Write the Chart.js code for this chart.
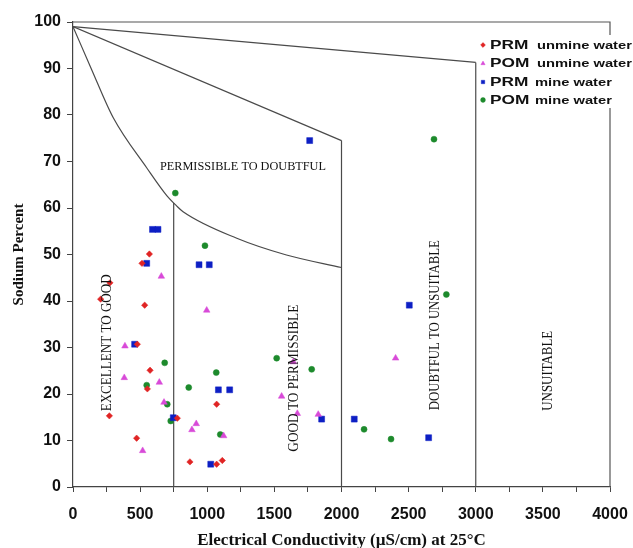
<!DOCTYPE html>
<html><head><meta charset="utf-8">
<script src="https://cdn.jsdelivr.net/npm/chart.js@4/dist/chart.umd.min.js"></script>
<style>html,body{margin:0;padding:0;background:#fff}</style>
</head><body>
<canvas id="c" width="633" height="548"></canvas>
<script>
// ---- data (EC in µS/cm, Sodium %) ----
const prmUnmine = [[569,50.1],[514,48.1],[275,43.9],[206,40.4],[534,39.1],[479,30.7],[574,25.1],[554,21.1],[271,15.3],[474,10.5],[1070,17.8],[777,14.8],[871,5.4],[1070,4.9],[1112,5.7]];
const pomUnmine = [[658,45.3],[996,38.0],[387,30.3],[382,23.5],[643,22.5],[678,18.2],[918,13.6],[886,12.3],[1122,11.0],[519,7.8],[1554,19.5],[1671,15.8],[1827,15.6],[2403,27.7],[1641,26.9]];
const prmMine = [[549,48.1],[939,47.8],[1015,47.8],[459,30.7],[1083,20.9],[1167,20.9],[747,14.9],[1026,4.9],[592,55.4],[633,55.4],[1763,74.5],[1852,14.6],[2095,14.6],[2505,39.1],[2649,10.6]];
const pomMine = [[762,63.2],[983,51.9],[2689,74.8],[2781,41.4],[683,26.7],[1067,24.6],[549,21.9],[862,21.4],[702,17.8],[728,14.2],[1097,11.3],[1517,27.7],[1778,25.3],[2168,12.4],[2369,10.3]];

// Wilcox diagram boundaries
const lineUnsuitable = [[0,99],[3000,91.3]];
const lineDoubtful = [[0,99],[2000,74.5]];
const curvePermissible = [[0,99],[140,89.7],[300,79.4],[550,68.6],[700,62.6],[770,60.5],[820,59.2],[1220,53.5],[1590,49.9],[2000,47.2]];
const vline750 = [[750,0],[750,61.1]];
const vline2000 = [[2000,0],[2000,74.5]];
const vline3000 = [[3000,0],[3000,91.3]];

const seriesNames = ["PRM unmine water","POM unmine water","PRM mine water","POM mine water"];
const zoneLabels = ["EXCELLENT TO GOOD","GOOD TO PERMISSIBLE","PERMISSIBLE TO DOUBTFUL","DOUBTFUL TO UNSUITABLE","UNSUITABLE"];
const xTicks = [0,500,1000,1500,2000,2500,3000,3500,4000];
const yTicks = [0,10,20,30,40,50,60,70,80,90,100];

const colors = ['#e02424','#d84ad8','#0d1fc4','#1d8a2c'];
const styles = ['rectRot','triangle','rect','circle'];
const radii = [3.2,3.8,4.2,3];

const toPts = a => a.map(p => ({x:p[0], y:p[1]}));
const lineDs = (a, smooth) => ({data: toPts(a), showLine:true, borderColor:'#4a4a4a', borderWidth:1.2, pointRadius:0,
  tension: smooth ? 0.4 : 0, cubicInterpolationMode: smooth ? 'monotone' : 'default', order:10, fill:false});

const pointSets = [prmUnmine, pomUnmine, prmMine, pomMine];
const datasets = [
  lineDs(lineUnsuitable), lineDs(lineDoubtful), lineDs(curvePermissible, true),
  lineDs(vline750), lineDs(vline2000), lineDs(vline3000)
].concat(pointSets.map((s,i) => ({
  label: seriesNames[i], data: toPts(s), showLine:false,
  pointStyle: styles[i], pointRadius: radii[i], pointBackgroundColor: colors[i],
  pointBorderColor: colors[i], pointBorderWidth: 0.5, order: 1
})));

function drawText(ctx, text, x, y, rot, font, targetLen) {
  ctx.save();
  ctx.translate(x, y);
  ctx.rotate(rot);
  ctx.font = font;
  const w = ctx.measureText(text).width;
  const k = targetLen ? targetLen / w : 1;
  ctx.scale(k, 1);
  ctx.textAlign = 'center';
  ctx.textBaseline = 'middle';
  ctx.fillStyle = '#111';
  ctx.fillText(text, 0, 0);
  ctx.restore();
}

const framePlugin = {
  id: 'frame',
  beforeDatasetsDraw(chart) {
    const {ctx, chartArea: a} = chart;
    ctx.save();
    ctx.strokeStyle = '#555';
    ctx.lineWidth = 1.2;
    ctx.beginPath();
    ctx.moveTo(a.left, a.top); ctx.lineTo(a.right, a.top); ctx.lineTo(a.right, a.bottom);
    ctx.stroke();
    ctx.restore();
  },
  afterDatasetsDraw(chart) {
    const {ctx, scales:{x, y}} = chart;
    const zones = [
      [zoneLabels[0], 253, 31, -Math.PI/2, '15px "Liberation Serif"', 137],
      [zoneLabels[1], 1646, 23.4, -Math.PI/2, '15px "Liberation Serif"', 147],
      [zoneLabels[2], 1266, 68.8, 0, '11.5px "Liberation Serif"', 166],
      [zoneLabels[3], 2697, 34.8, -Math.PI/2, '15px "Liberation Serif"', 170],
      [zoneLabels[4], 3538, 25, -Math.PI/2, '15px "Liberation Serif"', 80]
    ];
    zones.forEach(z => drawText(ctx, z[0], x.getPixelForValue(z[1]), y.getPixelForValue(z[2]), z[3], z[4], z[5]));
  },
  afterDraw(chart) {
    const ctx = chart.ctx;
    ctx.save();
    ctx.fillStyle = '#fff';
    ctx.fillRect(478, 35, 155, 73);
    const rows = [45, 63.5, 82, 100];
    rows.forEach((ry, i) => {
      ctx.fillStyle = colors[i];
      ctx.strokeStyle = colors[i];
      ctx.lineWidth = 0.5;
      Chart.helpers.drawPoint(ctx, {pointStyle: styles[i], radius: 2.4, rotation: 0, borderWidth: 0.5}, 483, ry);
      const parts = seriesNames[i].split(' ');
      const head = parts[0];
      const tail = parts.slice(1).join(' ');
      ctx.fillStyle = '#111';
      ctx.textBaseline = 'middle';
      ctx.textAlign = 'left';
      ctx.save();
      ctx.translate(490, ry);
      ctx.scale(1.33, 1);
      ctx.font = 'bold 13px "Liberation Sans"';
      ctx.fillText(head, 0, 0);
      ctx.restore();
      ctx.save();
      ctx.translate(i < 2 ? 537 : 535, ry + 0.5);
      ctx.scale(1.28, 1);
      ctx.font = 'bold 11.5px "Liberation Sans"';
      ctx.fillText(tail, 0, 0);
      ctx.restore();
    });
    ctx.restore();
  }
};

new Chart(document.getElementById('c'), {
  type: 'scatter',
  data: {datasets},
  options: {
    responsive: false,
    animation: false,
    devicePixelRatio: 1,
    layout: {padding: {top: 22, right: 23, left: 0, bottom: 0}},
    plugins: {legend: {display: false}, tooltip: {enabled: false}},
    scales: {
      x: {
        type: 'linear', min: 0, max: 4000,
        afterFit: s => { s.height = 61; s.paddingLeft = 0; s.paddingRight = 0; },
        afterBuildTicks: s => { const t = []; for (let v = 0; v <= 4000; v += 250) t.push({value: v}); s.ticks = t; },
        ticks: {autoSkip: false, maxRotation: 0, padding: 13, color: '#111',
          font: {family: '"Liberation Sans"', weight: 'bold', size: 16},
          callback: v => xTicks.includes(v) ? String(v) : ''},
        grid: {drawOnChartArea: false, tickLength: 5, color: '#444', lineWidth: 1},
        border: {color: '#444', width: 1.2},
        title: {display: true, text: 'Electrical Conductivity (µS/cm) at 25°C', color: '#111',
          font: {family: '"Liberation Serif"', weight: 'bold', size: 17}, padding: {top: 3, bottom: -3}}
      },
      y: {
        type: 'linear', min: 0, max: 100,
        afterFit: s => { s.width = 73; s.paddingTop = 0; s.paddingBottom = 0; },
        afterBuildTicks: s => { s.ticks = yTicks.map(v => ({value: v})); },
        ticks: {autoSkip: false, padding: 6, color: '#111',
          font: {family: '"Liberation Sans"', weight: 'bold', size: 16}},
        grid: {drawOnChartArea: false, tickLength: 6, color: '#444', lineWidth: 1},
        border: {color: '#444', width: 1.2},
        title: {display: true, text: 'Sodium Percent', color: '#111',
          font: {family: '"Liberation Serif"', weight: 'bold', size: 15}, padding: {top: 10, bottom: 0}}
      }
    }
  },
  plugins: [framePlugin]
});
</script>
</body></html>
